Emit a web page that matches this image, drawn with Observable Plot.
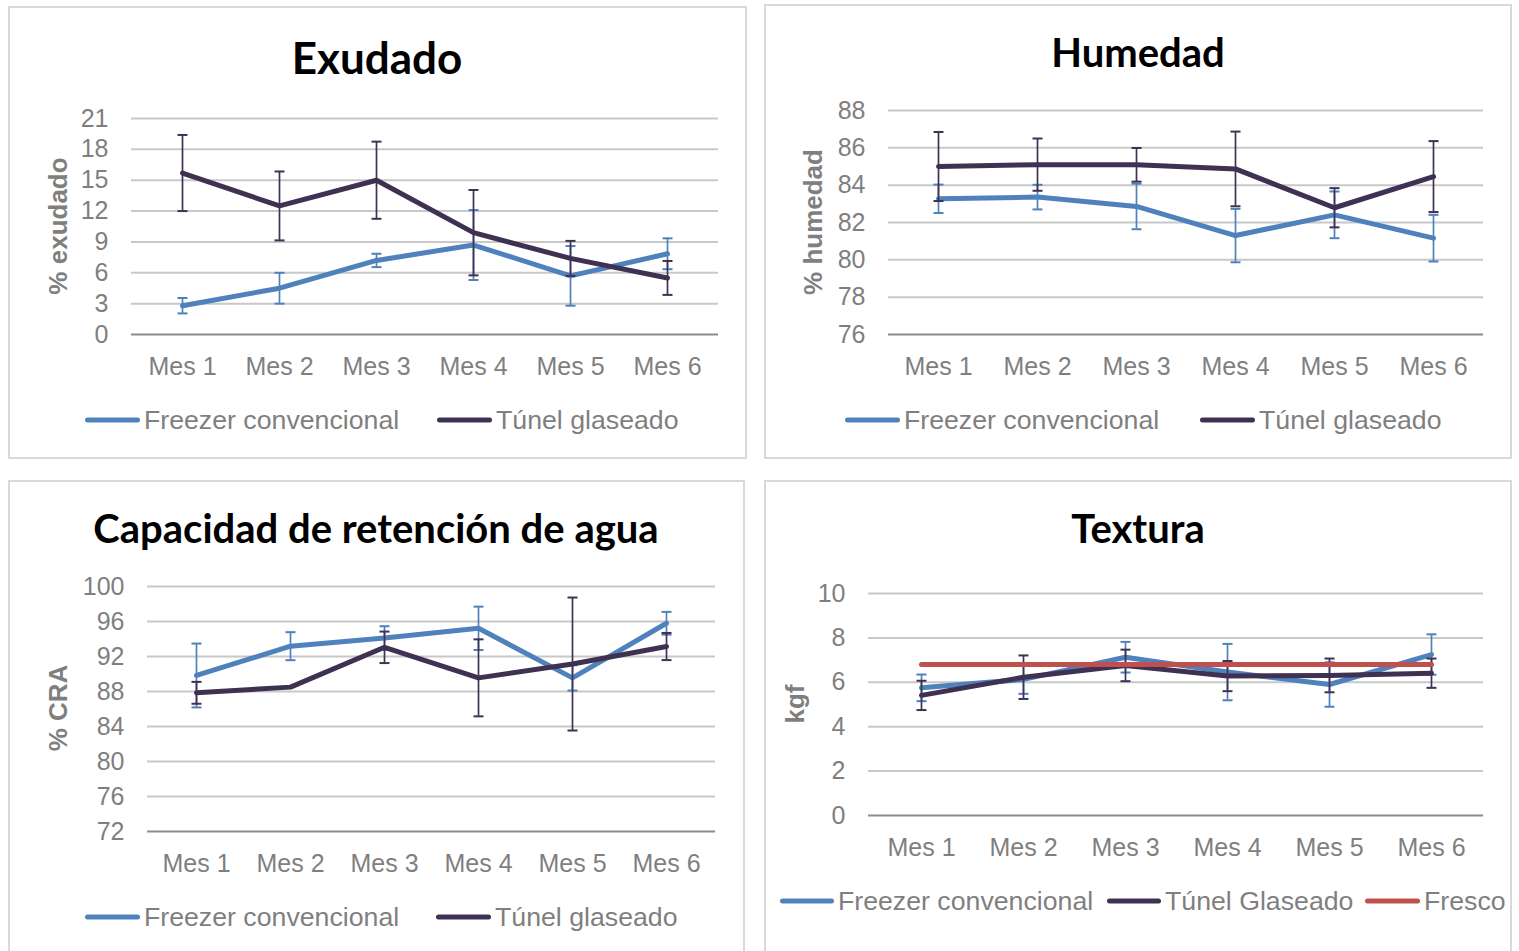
<!DOCTYPE html>
<html><head><meta charset="utf-8">
<script src="https://cdn.jsdelivr.net/npm/d3@7"></script>
<script src="https://cdn.jsdelivr.net/npm/@observablehq/plot@0.6"></script>
<style>
body{margin:0;background:#fff;width:1519px;height:951px;overflow:hidden;position:relative;font-family:"Liberation Sans",Arial,sans-serif;}
.panel{position:absolute;box-sizing:border-box;border:2px solid #d9d9d9;}
.title{position:absolute;transform:translate(-50%,-50%);font-family:Lato,"Open Sans",sans-serif;font-weight:700;font-size:42px;color:#000;white-space:nowrap;}
.ylab{position:absolute;transform:translate(-50%,-50%) rotate(-90deg);font-family:"Liberation Sans",Arial,sans-serif;font-weight:700;font-size:26px;color:#7f7f7f;white-space:nowrap;}
.leg{position:absolute;transform:translateY(-50%);font-family:"Liberation Sans",Arial,sans-serif;font-size:26.7px;color:#7f7f7f;white-space:nowrap;display:flex;align-items:center;}
.sw{display:inline-block;height:5px;border-radius:3px;margin-right:4px;}
svg.chart{position:absolute;overflow:visible;}
</style></head>
<body>
<script>
// ---- data ----
const months = ["Mes 1", "Mes 2", "Mes 3", "Mes 4", "Mes 5", "Mes 6"];

const exTicks = [0, 3, 6, 9, 12, 15, 18, 21];
const exFreezer = [2.8, 4.5, 7.2, 8.7, 5.7, 7.85];
const exFreezerErr = [0.75, 1.5, 0.65, 3.4, 2.9, 1.5];
const exTunel = [15.7, 12.5, 15.0, 9.9, 7.4, 5.5];
const exTunelErr = [3.7, 3.35, 3.75, 4.15, 1.7, 1.65];

const huTicks = [76, 78, 80, 82, 84, 86, 88];
const huFreezer = [83.27, 83.36, 82.86, 81.3, 82.41, 81.16];
const huFreezerErr = [0.76, 0.66, 1.22, 1.43, 1.25, 1.25];
const huTunel = [85.0, 85.1, 85.09, 84.87, 82.79, 84.46];
const huTunelErr = [1.85, 1.4, 0.9, 2.0, 1.05, 1.9];

const craTicks = [72, 76, 80, 84, 88, 92, 96, 100];
const craFreezer = [89.83, 93.18, 94.11, 95.22, 89.56, 95.8];
const craFreezerErr = [3.65, 1.6, 1.35, 2.48, 1.45, 1.3];
const craTunel = [87.85, 88.5, 93.05, 89.56, 91.14, 93.14];
const craTunelErr = [1.25, 0, 1.8, 4.4, 7.6, 1.55];

const txTicks = [0, 2, 4, 6, 8, 10];
const txFreezer = [5.75, 6.13, 7.13, 6.46, 5.9, 7.25];
const txFreezerErr = [0.6, 0.65, 0.69, 1.27, 1.0, 0.91];
const txTunel = [5.41, 6.23, 6.76, 6.28, 6.31, 6.41];
const txTunelErr = [0.66, 0.98, 0.71, 0.68, 0.76, 0.66];
const txFresco = [6.8, 6.8, 6.8, 6.8, 6.8, 6.8];

const BLUE = "#4f81bd", PURPLE = "#3f3151", RED = "#c0504d";

// horizontal cap symbol for error bars
const capSymbol = {
  draw(context, size) {
    const w = Math.sqrt(size / Math.PI);
    context.moveTo(-w, 0);
    context.lineTo(w, 0);
  }
};

// ---- helpers ----
function el(cls, css, text) {
  const d = document.createElement("div");
  d.className = cls;
  Object.assign(d.style, css);
  if (text != null) d.textContent = text;
  document.body.appendChild(d);
  return d;
}
function legendItem(x, y, len, color, text) {
  const d = el("leg", {left: x + "px", top: y + "px"});
  const s = document.createElement("span");
  s.className = "sw"; s.style.width = len + "px"; s.style.background = color;
  d.appendChild(s);
  d.appendChild(document.createTextNode(text));
}

function chart(cfg) {
  const marks = [
    Plot.ruleY(cfg.ticks.slice(1), {stroke: "#c8c8c8", strokeWidth: 2}),
    Plot.ruleY([cfg.ticks[0]], {stroke: "#8c8c8c", strokeWidth: 2}),
    Plot.axisX(months, {tickSize: 0, tickPadding: 23, fontSize: 25, label: null}),
    Plot.axisY(cfg.ticks, {tickSize: 0, tickPadding: 23, fontSize: 25, label: null})
  ];
  for (const s of cfg.series) {
    const data = months.map((m, i) => ({month: m, v: s.values[i], e: s.errs ? s.errs[i] : 0}));
    marks.push(Plot.line(data, {x: "month", y: "v", stroke: s.color, strokeWidth: 5,
      strokeLinecap: "round", strokeLinejoin: "round"}));
    const eb = data.filter(d => d.e > 0);
    marks.push(Plot.ruleX(eb, {x: "month", y1: d => d.v - d.e, y2: d => d.v + d.e, stroke: s.color, strokeWidth: 1.7}));
    marks.push(Plot.dot(eb, {x: "month", y: d => d.v + d.e, symbol: capSymbol, r: 5, stroke: s.color, strokeWidth: 2, fill: "none"}));
    marks.push(Plot.dot(eb, {x: "month", y: d => d.v - d.e, symbol: capSymbol, r: 5, stroke: s.color, strokeWidth: 2, fill: "none"}));
  }
  const svg = Plot.plot({
    width: cfg.w, height: cfg.h,
    marginLeft: cfg.ml, marginRight: cfg.mr, marginTop: cfg.mt, marginBottom: cfg.mb,
    x: {type: "point", domain: months, padding: 0.5, align: 0.5},
    y: {domain: [cfg.ticks[0], cfg.ticks[cfg.ticks.length - 1]]},
    style: {color: "#7f7f7f", fontFamily: "'Liberation Sans', Arial, sans-serif", fontSize: "25px", background: "transparent"},
    marks
  });
  svg.classList.add("chart");
  svg.style.left = cfg.left + "px";
  svg.style.top = cfg.top + "px";
  document.body.appendChild(svg);
}

// ---- panels ----
el("panel", {left: "8px", top: "6px", width: "739px", height: "453px"});
el("panel", {left: "764px", top: "4px", width: "748px", height: "455px"});
el("panel", {left: "8px", top: "480px", width: "737px", height: "490px"});
el("panel", {left: "764px", top: "480px", width: "748px", height: "490px"});

// Exudado
el("title", {left: "377px", top: "57px", fontSize: "44px"}, "Exudado");
el("ylab", {left: "58px", top: "226px"}, "% exudado");
chart({left: 10, top: 90, w: 735, h: 300, ml: 121, mr: 27, mt: 28, mb: 56, ticks: exTicks,
  series: [{values: exFreezer, errs: exFreezerErr, color: BLUE}, {values: exTunel, errs: exTunelErr, color: PURPLE}]});
legendItem(85, 420, 55, BLUE, "Freezer convencional");
legendItem(437, 420, 55, PURPLE, "Túnel glaseado");

// Humedad
el("title", {left: "1138px", top: "52px", fontSize: "40px"}, "Humedad");
el("ylab", {left: "813px", top: "222px"}, "% humedad");
chart({left: 766, top: 90, w: 744, h: 300, ml: 122, mr: 27, mt: 20, mb: 56, ticks: huTicks,
  series: [{values: huFreezer, errs: huFreezerErr, color: BLUE}, {values: huTunel, errs: huTunelErr, color: PURPLE}]});
legendItem(845, 420, 55, BLUE, "Freezer convencional");
legendItem(1200, 420, 55, PURPLE, "Túnel glaseado");

// CRA
el("title", {left: "376px", top: "528px", fontSize: "40px"}, "Capacidad de retención de agua");
el("ylab", {left: "58px", top: "708px"}, "% CRA");
chart({left: 10, top: 566, w: 733, h: 320, ml: 137, mr: 28, mt: 20, mb: 55, ticks: craTicks,
  series: [{values: craFreezer, errs: craFreezerErr, color: BLUE}, {values: craTunel, errs: craTunelErr, color: PURPLE}]});
legendItem(85, 917, 55, BLUE, "Freezer convencional");
legendItem(436, 917, 55, PURPLE, "Túnel glaseado");

// Textura
el("title", {left: "1138px", top: "528px", fontSize: "40px"}, "Textura");
el("ylab", {left: "795px", top: "704px"}, "kgf");
chart({left: 766, top: 570, w: 744, h: 300, ml: 102, mr: 27, mt: 23, mb: 55, ticks: txTicks,
  series: [{values: txFreezer, errs: txFreezerErr, color: BLUE}, {values: txTunel, errs: txTunelErr, color: PURPLE},
           {values: txFresco, color: RED}]});
legendItem(780, 901, 54, BLUE, "Freezer convencional");
legendItem(1107, 901, 54, PURPLE, "Túnel Glaseado");
legendItem(1365, 901, 55, RED, "Fresco");
</script>
</body></html>
